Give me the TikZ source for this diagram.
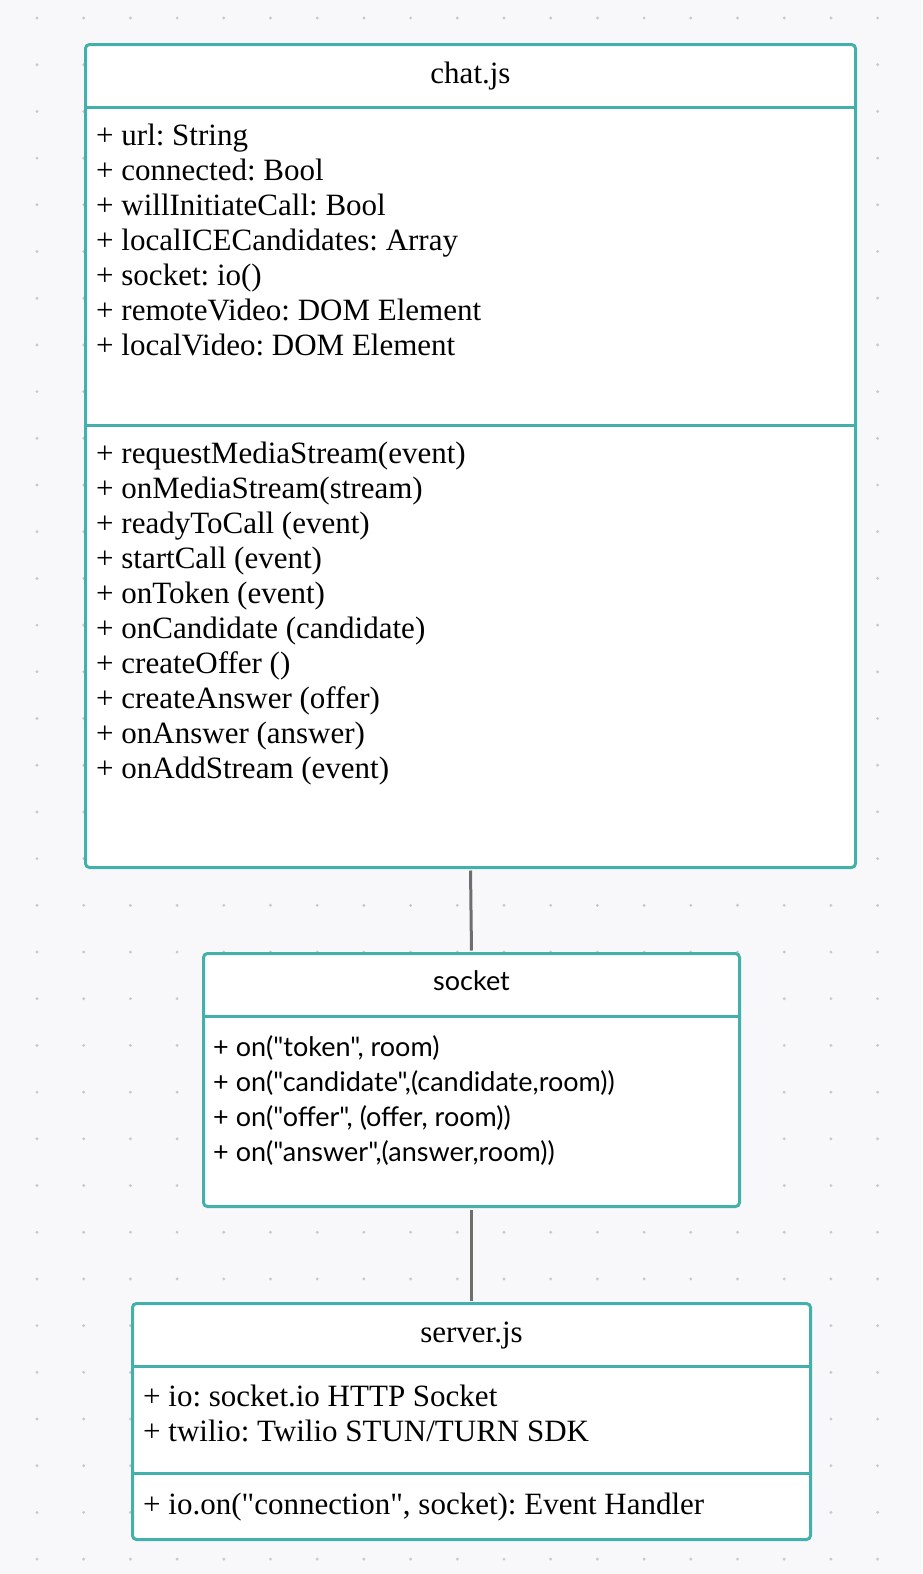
\documentclass[tikz,border=0pt]{standalone}
\usepackage{fontspec}
\newfontfamily\classfont{Liberation Serif}
\newfontfamily\socketfont{Lato}
\usetikzlibrary{positioning}
\definecolor{umlteal}{RGB}{67,176,172}
\definecolor{gridbg}{RGB}{248,248,250}
\definecolor{griddot}{RGB}{200,200,206}
\definecolor{linkgray}{RGB}{110,110,110}
\frenchspacing

\begin{document}
\begin{tikzpicture}[x=1pt, y=-1pt,
        classbox/.style={draw=umlteal, line width=3pt, fill=white, rounded corners=4pt, inner sep=0pt, anchor=north west},
        divider/.style={draw=umlteal, line width=3pt},
        title/.style={anchor=base, inner sep=0pt, font=\classfont\fontsize{31}{35}\selectfont},
        member/.style={anchor=base west, inner sep=0pt, font=\classfont\fontsize{31}{35}\selectfont},
        sockettext/.style={font=\socketfont\fontsize{27}{35}\selectfont},
        link/.style={draw=linkgray, line width=3pt, shorten >=1.5pt, shorten <=1.5pt}]
        % Canvas with dot grid
        \path[use as bounding box, fill=gridbg] (0,0) rectangle (922,1574);
        \foreach \gx in {0,...,18}
            \foreach \gy in {0,...,33}
                \fill[griddot] ({37+46.7*\gx},{18+46.7*\gy}) circle (1.6pt);

        % chat.js class
        \node[classbox, minimum width=770pt, minimum height=823pt] (chat) at (84,43) {};
        \draw[divider] (chat.west |- 0,107) -- (chat.east |- 0,107);
        \draw[divider] (chat.west |- 0,425) -- (chat.east |- 0,425);
        \node[title] (chattitle) at (chat.north |- 0,83) {chat.js};
        \foreach \txt [count=\i from 0] in {{+ url: String}, {+ connected: Bool}, {+ willInitiateCall: Bool}, {+ localICECandidates: Array}, {+ socket: io()}, {+ remoteVideo: DOM Element}, {+ localVideo: DOM Element}}
            \node[member] (chatattr\i) at (96,{145+35*\i}) {\txt};
        \foreach \txt [count=\i from 0] in {{+ requestMediaStream(event)}, {+ onMediaStream(stream)}, {+ readyToCall (event)}, {+ startCall (event)}, {+ onToken (event)}, {+ onCandidate (candidate)}, {+ createOffer ()}, {+ createAnswer (offer)}, {+ onAnswer (answer)}, {+ onAddStream (event)}}
            \node[member] (chatop\i) at (96,{463+35*\i}) {\txt};

        % socket class
        \node[classbox, minimum width=536pt, minimum height=253pt] (socket) at (202,952) {};
        \draw[divider] (socket.west |- 0,1016) -- (socket.east |- 0,1016);
        \node[title, sockettext] (sockettitle) at (socket.north |- 0,990) {socket};
        \foreach \txt [count=\i from 0] in {{+ on("token", room)}, {+ on("candidate",(candidate,room))}, {+ on("offer", (offer, room))}, {+ on("answer",(answer,room))}}
            \node[member, sockettext] (socketop\i) at (213,{1056+35*\i}) {\txt};

        % server.js class
        \node[classbox, minimum width=678pt, minimum height=236pt] (server) at (131,1302) {};
        \draw[divider] (server.west |- 0,1366) -- (server.east |- 0,1366);
        \draw[divider] (server.west |- 0,1473) -- (server.east |- 0,1473);
        \node[title] (servertitle) at (server.north |- 0,1342) {server.js};
        \node[member] (serverattr0) at (143,1406) {+ io: socket.io HTTP Socket};
        \node[member] (serverattr1) at (143,1441) {+ twilio: Twilio STUN/TURN SDK};
        \node[member] (serverop0) at (143,1514) {+ io.on("connection", socket): Event Handler};

        % Associations
        \draw[link] (chat.south) -- (socket.north);
        \draw[link] (socket.south) -- (server.north);
\end{tikzpicture}
\end{document}
